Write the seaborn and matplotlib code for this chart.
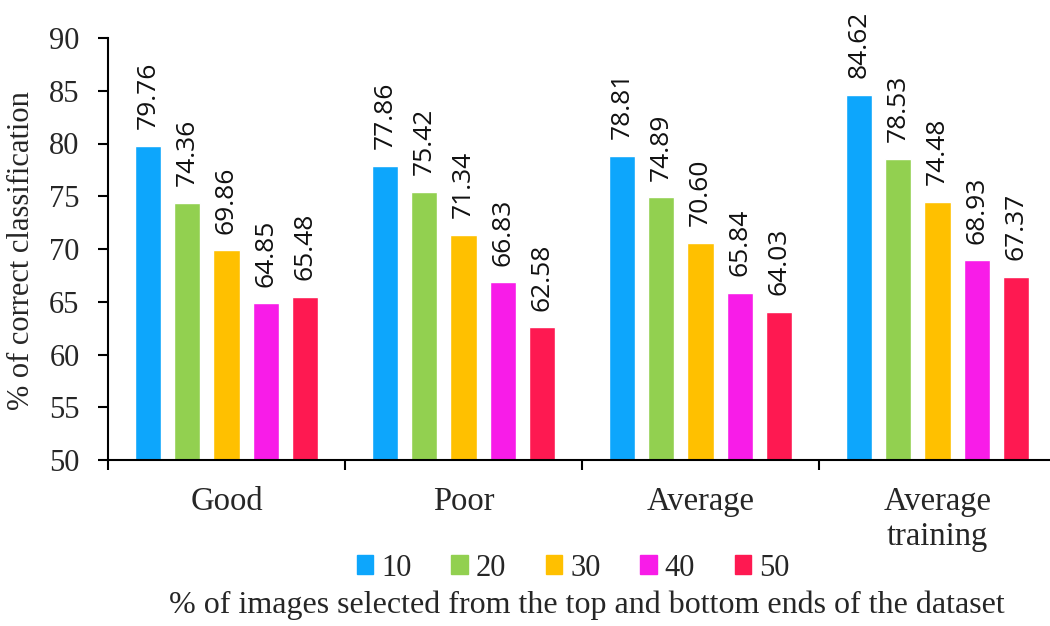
import matplotlib
matplotlib.use("Agg")
import matplotlib.pyplot as plt
import seaborn as sns
import pandas as pd

# Classification accuracy per image-quality group and selection percentage
categories = ["Good", "Poor", "Average", "Average\ntraining"]
selection = ["10", "20", "30", "40", "50"]
values = {
    "10": [79.76, 77.86, 78.81, 84.62],
    "20": [74.36, 75.42, 74.89, 78.53],
    "30": [69.86, 71.34, 70.60, 74.48],
    "40": [64.85, 66.83, 65.84, 68.93],
    "50": [65.48, 62.58, 64.03, 67.37],
}
colors = ["#0DA6FC", "#92D050", "#FFC000", "#F81CE8", "#FE1951"]
y_ticks = [50, 55, 60, 65, 70, 75, 80, 85, 90]

rows = []
for s in selection:
    for c, v in zip(categories, values[s]):
        rows.append({"group": c, "pct": s, "acc": v})
df = pd.DataFrame(rows)

sns.set_style("white")
plt.rcParams["font.family"] = ["Liberation Serif", "DejaVu Serif"]

W, H = 1050, 626
fig = plt.figure(figsize=(W / 100, H / 100), dpi=100)
ax = fig.add_axes([108 / W, 1 - 460 / H, 948 / W, (460 - 38) / H])

sns.barplot(
    data=df, x="group", y="acc", hue="pct", order=categories,
    hue_order=selection, palette=colors, width=0.823, gap=0.333,
    saturation=1, errorbar=None, ax=ax, legend=True,
)

# Rotated value labels above each bar
for cont in ax.containers:
    for bar in cont:
        h = bar.get_height()
        ax.annotate(f"{h:.2f}", (bar.get_x() + bar.get_width() / 2, h),
                    xytext=(0, 12), textcoords="offset points",
                    rotation=90, ha="center", va="bottom",
                    fontsize=19, family=["Open Sans", "DejaVu Sans"],
                    color="#111111")

ax.set_ylim(50, 90)
ax.set_yticks(y_ticks)
ax.set_xlim(-0.5, len(categories) - 0.5)
ax.set_xlabel("")
ax.set_ylabel("")

for side in ["top", "right"]:
    ax.spines[side].set_visible(False)
for side in ["left", "bottom"]:
    ax.spines[side].set_linewidth(1.5)
    ax.spines[side].set_color("black")

ax.tick_params(axis="y", which="major", direction="out", length=7.5,
               width=1.5, pad=13, labelsize=22, left=True, color="black")
ax.set_xticks(range(len(categories)))
ax.set_xticklabels(categories, fontsize=23.5, linespacing=1.2)
ax.tick_params(axis="x", which="major", length=0, pad=19)
ax.set_xticks([i - 0.5 for i in range(len(categories) + 1)], minor=True)
ax.tick_params(axis="x", which="minor", direction="out", length=7,
               width=1.5, bottom=True, color="black")

ax.legend_.remove()
handles = [plt.Rectangle((0, 0), 1, 1, color=c) for c in colors]
fig.legend(handles, selection, loc="center", ncol=5, frameon=False,
           bbox_to_anchor=(573 / W, 1 - 568 / H), fontsize=22,
           handlelength=0.55, handleheight=0.55, handletextpad=0.25,
           columnspacing=1.3)

fig.text(587 / W, 1 - 605 / H,
         "% of images selected from the top and bottom ends of the dataset",
         ha="center", va="center", fontsize=23)
fig.text(22 / W, 1 - 251 / H, "% of correct classification",
         rotation=90, ha="center", va="center", fontsize=22)

fig.savefig("out.png", dpi=100)
